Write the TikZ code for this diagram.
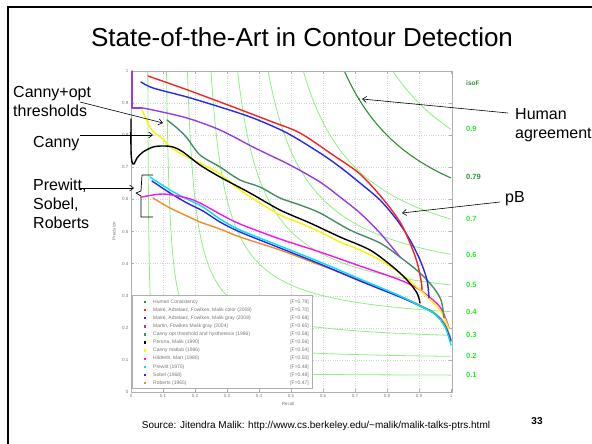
\documentclass[tikz,border=0pt]{standalone}
\usepackage{fontspec}
\setmainfont{Liberation Sans}
\usetikzlibrary{arrows.meta}
\definecolor{cRed}{RGB}{245,35,35}
\definecolor{cBlue}{RGB}{40,40,235}
\definecolor{cPurple}{RGB}{150,60,230}
\definecolor{cCanny}{RGB}{70,140,100}
\definecolor{cYellow}{RGB}{250,245,0}
\definecolor{cMag}{RGB}{250,20,240}
\definecolor{cCyan}{RGB}{0,225,250}
\definecolor{cOrange}{RGB}{240,140,40}
\definecolor{isoLight}{RGB}{140,240,125}
\definecolor{isoDark}{RGB}{45,145,45}
\definecolor{isoLab}{RGB}{40,230,40}
\definecolor{axGray}{RGB}{175,175,175}
\definecolor{txGray}{RGB}{120,120,120}
\begin{document}
\begin{tikzpicture}[x=1pt,y=-1pt,
  lbl/.style={font=\fontsize{16}{19}\selectfont, anchor=base west, inner sep=0pt},
  ann/.style={draw=black, line width=0.6pt, -{Straight Barb[length=4pt,width=6pt]}},
  iso/.style={draw=isoLight, line width=0.8pt},
  crv/.style={line width=1.4pt, line join=round, line cap=round},
  tick/.style={font=\fontsize{4.5}{5}\selectfont, text=txGray, inner sep=0.5pt},
  isolbl/.style={font=\bfseries\fontsize{7.5}{8}\selectfont, text=isoLab, anchor=west, inner sep=0pt},
  legt/.style={font=\fontsize{5}{6}\selectfont, text=txGray, inner sep=0pt}
]
\useasboundingbox (0,0) rectangle (592,444);
% outer slide frame
\draw[line width=2pt] (8,444) -- (8,7) -- (592,7);
% title
\node[font=\fontsize{26}{30}\selectfont, anchor=base, inner sep=0pt] (title) at (302,47) {State-of-the-Art in Contour Detection};

% grid
\foreach \i in {1,...,9}{
  \draw[gray!35, dotted, line width=0.4pt] ({131+32*\i},71) -- ({131+32*\i},392);
  \draw[gray!35, dotted, line width=0.4pt] (131,{392-32.1*\i}) -- (452,{392-32.1*\i});
}
% iso-F curves
\begin{scope}
\clip (131,71) rectangle (452,392);
\foreach \F in {0.1,0.2,0.3,0.4,0.5,0.6,0.7,0.9}{
  \draw[iso] plot[domain=\F:1, samples=50, variable=\p] ({131+320*\F*\p/(2*\p-\F)},{392-321*\p});
  \draw[iso] plot[domain=\F:1, samples=50, variable=\r] ({131+320*\r},{392-321*\F*\r/(2*\r-\F)});
}
\draw[isoDark, line width=1.1pt] plot[domain=0.8:1, samples=40, variable=\p] ({131+320*0.8*\p/(2*\p-0.8)},{392-321*\p});
\draw[isoDark, line width=1.1pt] plot[domain=0.8:1, samples=40, variable=\r] ({131+320*\r},{392-321*0.8*\r/(2*\r-0.8)});
\end{scope}
% axes frame and ticks
\draw[axGray, line width=0.6pt] (131,71) rectangle (452,392);
\draw[axGray, line width=1.6pt] (452.5,71) -- (452.5,392);
\foreach \i in {0,...,10}{
  \draw[axGray, line width=0.4pt] ({131+32*\i},392) -- ++(0,-3);
  \draw[axGray, line width=0.4pt] ({131+32*\i},71) -- ++(0,3);
  \draw[axGray, line width=0.4pt] (131,{392-32.1*\i}) -- ++(3,0);
  \draw[axGray, line width=0.4pt] (452,{392-32.1*\i}) -- ++(-3,0);
}
\foreach \i/\t in {0/0,1/0.1,2/0.2,3/0.3,4/0.4,5/0.5,6/0.6,7/0.7,8/0.8,9/0.9,10/1}{
  \node[tick, anchor=north] (xt\i) at ({131+32*\i},394) {\t};
  \node[tick, anchor=east] (yt\i) at (129,{392-32.1*\i}) {\t};
}
\node[tick] (recall) at (288,404) {Recall};
\node[tick, rotate=90] (prec) at (114,231) {Precision};

% PR curves
\draw[crv, cOrange] plot[smooth, tension=0.5] coordinates {(153,198) (170,208) (187,216) (200,222) (220,229) (240,237) (280,250) (320,265) (360,280) (400,296) (433,312) (445,324) (451,340)};
\draw[crv, cBlue] plot[smooth, tension=0.5] coordinates {(152,181) (170,193) (187,203) (203,211) (220,222) (240,232) (280,248) (320,264) (360,281) (400,297) (420,306) (435,314) (445,326) (451,341)};
\draw[crv, cCyan] plot[smooth, tension=0.5] coordinates {(150,177) (170,190) (187,199) (203,207) (220,219) (240,230) (280,246) (320,262) (360,279) (400,296) (420,306) (435,314) (445,327) (451,345)};
\draw[crv, cMag] plot[smooth, tension=0.5] coordinates {(142,197) (163,194) (187,198) (200,203) (220,214) (240,224) (280,239) (320,252) (360,266) (400,280) (420,290) (440,307) (449,328)};
\draw[crv, cYellow] plot[smooth, tension=0.5] coordinates {(142,110) (150,127) (155,133) (163,139) (170,147) (187,157) (200,163) (220,174) (240,190) (260,203) (280,215) (300,223) (320,232) (340,242) (360,250) (380,260) (400,273) (420,290) (440,310) (449,329)};
\draw[crv, black] plot[smooth, tension=0.5] coordinates {(131,119) (131,150) (132,162) (134,164) (137,158) (143,152) (153,147) (163,146) (173,147) (183,152) (200,165) (220,177) (250,193) (280,210) (310,223) (340,237) (370,250) (393,267) (407,280) (417,293) (420,303)};
\draw[crv, cCanny] plot[smooth, tension=0.5] coordinates {(167,120) (177,128) (187,138) (200,155) (220,167) (240,180) (260,187) (280,198) (300,205) (320,213) (350,230) (380,243) (400,257) (420,273) (433,287) (441,300) (444,318)};
\draw[crv, cPurple] (132,71) -- (132,108) -- (142,108);
\draw[crv, cPurple] plot[smooth, tension=0.5] coordinates {(142,108) (153,110) (187,118) (220,130) (255,148) (290,165) (320,182) (340,197) (360,213) (380,233) (400,257)};
\draw[crv, cBlue] plot[smooth, tension=0.5] coordinates {(141,82) (153,88) (187,97) (220,107) (253,118) (287,133) (320,153) (340,167) (360,183) (380,200) (397,220) (410,240) (420,260) (427,280) (429,298)};
\draw[crv, cRed] plot[smooth, tension=0.5] coordinates {(148,76) (185,89) (220,102) (270,121) (300,133) (333,155) (360,174) (383,199) (400,222) (410,243) (417,262) (421,280) (422,290)};
\fill[isoDark] (359,99) circle (1.2);

% iso labels
\node[isolbl, text=isoDark, font=\bfseries\fontsize{6.5}{7}\selectfont] (isoF) at (466,83) {isoF};
\node[isolbl, text=isoDark] (iso79) at (466,177) {0.79};
\foreach \f/\t in {0.9/0.9,0.7/0.7,0.6/0.6,0.5/0.5,0.4/0.4,0.3/0.3,0.2/0.2,0.1/0.1}{
  \node[isolbl] (iso\t) at (466,{392-321*\f/(2-\f)}) {\t};
}

% legend
\draw[axGray, fill=white, line width=0.6pt] (132,295) rectangle (312,388);
\foreach \c/\t/\f [count=\i from 0] in {
  isoDark/{Human Consistency}/0.79,
  cRed/{Maire, Arbelaez, Fowlkes, Malik color (2008)}/0.70,
  cBlue/{Maire, Arbelaez, Fowlkes, Malik gray (2008)}/0.68,
  cPurple/{Martin, Fowlkes Malik gray (2004)}/0.65,
  cCanny/{Canny opt threshold and hysthere\-sis (1986)}/0.58,
  black/{Perona, Malik (1990)}/0.56,
  cYellow/{Canny matlab (1986)}/0.54,
  cMag/{Hildreth, Marr (1980)}/0.50,
  cCyan/{Prewitt (1970)}/0.48,
  cBlue/{Sobel (1968)}/0.48,
  cOrange/{Roberts (1965)}/0.47}{
  \fill[\c] (143.8,{302+8.1*\i-1.2}) rectangle ++(2.4,2.4);
  \node[legt, anchor=west] (leg\i) at (153,{302+8.1*\i}) {\t};
  \node[legt, anchor=east] (legf\i) at (309,{302+8.1*\i}) {[F=\f]};
}

% annotations
\node[lbl] (tCo1) at (13,98) {Canny+opt};
\node[lbl] (tCo2) at (13,117) {thresholds};
\node[lbl] (tCanny) at (33,147) {Canny};
\node[lbl] (tPre) at (33,190) {Prewitt,};
\node[lbl] (tSob) at (33,209) {Sobel,};
\node[lbl] (tRob) at (33,228) {Roberts};
\node[lbl] (tHum1) at (515,119) {Human};
\node[lbl] (tHum2) at (515,138) {agreement};
\node[lbl] (tpB) at (505,202) {pB};

\coordinate (sCo) at (80,102);  \coordinate (eCo) at (163,123);
\coordinate (sCa) at (80,135);  \coordinate (eCa) at (153,135);
\coordinate (sPr) at (80,188);  \coordinate (ePr) at (134,188);
\coordinate (sHu) at (508,113); \coordinate (eHu) at (362,99);
\coordinate (spB) at (500,202); \coordinate (epB) at (402,213);
\draw[ann] (sCo) -- (eCo);
\draw[ann] (sCa) -- (eCa);
\draw[ann] (sPr) -- (ePr);
\draw[ann] (sHu) -- (eHu);
\draw[ann] (spB) -- (epB);
% brace
\coordinate (bTop) at (153,175);
\coordinate (bBot) at (153,217);
\draw[line width=0.7pt, line join=round] (bTop) -- (142,175) -- (141,191) -- (136,193) -- (141,196) -- (141,217) -- (bBot);

% footer
\node[font=\fontsize{10}{12}\selectfont, anchor=base, inner sep=0pt] (src) at (316,428) {Source: Jitendra Malik: http://www.cs.berkeley.edu/\textasciitilde malik/malik-talks-ptrs.html};
\node[font=\bfseries\fontsize{10}{12}\selectfont, anchor=base, inner sep=0pt] (pnum) at (537,424) {33};
\end{tikzpicture}
\end{document}
